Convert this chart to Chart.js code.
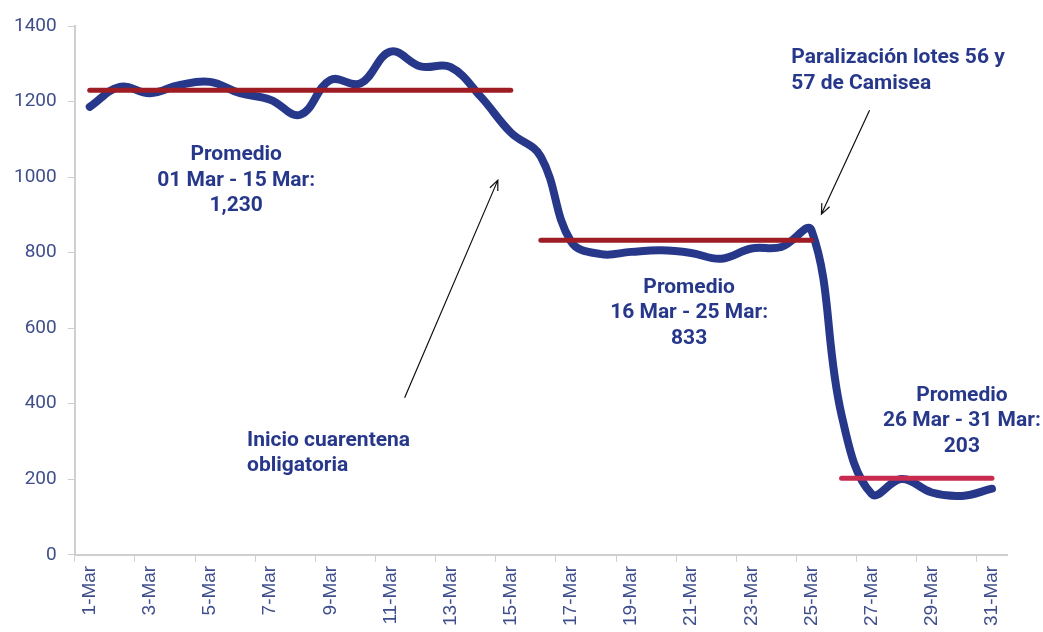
<!DOCTYPE html>
<html lang="es">
<head>
    <meta charset="UTF-8">
    <title>Producción diaria - Marzo</title>
    <script src="https://cdn.jsdelivr.net/npm/chart.js"></script>
    <style>
        html, body { margin: 0; padding: 0; background: #fff; }
        #wrap { width: 1043px; height: 632px; }
    </style>
</head>
<body>
<div id="wrap"><canvas id="chart"></canvas></div>
<script>
    // Categories and values
    const days = [];
    for (let d = 1; d <= 31; d++) days.push(d + '-Mar');

    const dailyValues = [
        1186, 1239, 1222, 1244, 1252, 1222, 1205, 1165, 1257, 1248,
        1332, 1293, 1291, 1213, 1118, 1054, 830, 796, 802, 806,
        799, 784, 811, 815, 859, 370, 161, 201, 165, 156, 175
    ];

    // Averages per period: [first day index, last day index, value]
    const avgValues = [1230, 833, 203];
    const avgStart = [0, 15, 25];
    const avgEnd = [14, 24, 30];
    const avgColors = ['#9e1c23', '#9e1c23', '#c92a50'];

    const yTicks = [0, 200, 400, 600, 800, 1000, 1200, 1400];

    const blue = '#27388a';
    const tickColor = '#404f8c';
    const axisColor = '#cfcfcf';

    const avgDatasets = avgValues.map((v, k) => ({
        data: days.map((_, i) => (i >= avgStart[k] && i <= avgEnd[k]) ? v : null),
        borderColor: avgColors[k],
        borderWidth: 5,
        borderCapStyle: 'round',
        pointRadius: 0,
        tension: 0,
        spanGaps: false,
        order: 0
    }));

    // Annotation texts placed on the value axes: [category index, value]
    const notes = [
        { lines: ['Promedio', '01 Mar - 15 Mar:', '1,230'], at: [4.87, 1058], align: 'center' },
        { lines: ['Promedio', '16 Mar - 25 Mar:', '833'], at: [19.93, 708], align: 'center' },
        { lines: ['Promedio', '26 Mar - 31 Mar:', '203'], at: [29.0, 422], align: 'center' },
        { lines: ['Paralización lotes 56 y', '57 de Camisea'], at: [23.33, 1315], align: 'left' },
        { lines: ['Inicio cuarentena', 'obligatoria'], at: [5.23, 302], align: 'left' }
    ];
    const arrows = [
        { from: [10.47, 416], to: [13.57, 992] },
        { from: [25.93, 1177], to: [24.33, 902] }
    ];

    const notesPlugin = {
        id: 'notes',
        afterDatasetsDraw(chart) {
            const ctx = chart.ctx;
            const x = chart.scales.x, y = chart.scales.y;
            ctx.save();
            ctx.fillStyle = blue;
            ctx.font = 'bold 21px Roboto, "Noto Sans", sans-serif';
            ctx.textBaseline = 'middle';
            notes.forEach(n => {
                ctx.textAlign = n.align;
                const px = x.getPixelForValue(n.at[0]);
                const py = y.getPixelForValue(n.at[1]);
                n.lines.forEach((t, i) => ctx.fillText(t, px, py + i * 25.5));
            });
            ctx.strokeStyle = '#111';
            ctx.lineWidth = 1.2;
            arrows.forEach(a => {
                const x1 = x.getPixelForValue(a.from[0]), y1 = y.getPixelForValue(a.from[1]);
                const x2 = x.getPixelForValue(a.to[0]), y2 = y.getPixelForValue(a.to[1]);
                const ang = Math.atan2(y2 - y1, x2 - x1);
                ctx.beginPath();
                ctx.moveTo(x1, y1);
                ctx.lineTo(x2, y2);
                ctx.moveTo(x2 - 11 * Math.cos(ang - 0.4), y2 - 11 * Math.sin(ang - 0.4));
                ctx.lineTo(x2, y2);
                ctx.lineTo(x2 - 11 * Math.cos(ang + 0.4), y2 - 11 * Math.sin(ang + 0.4));
                ctx.stroke();
            });
            ctx.restore();
        }
    };

    new Chart(document.getElementById('chart'), {
        type: 'line',
        data: {
            labels: days,
            datasets: [
                ...avgDatasets,
                {
                    data: dailyValues,
                    borderColor: blue,
                    borderWidth: 8,
                    borderCapStyle: 'round',
                    borderJoinStyle: 'round',
                    pointRadius: 0,
                    tension: 0.4,
                    order: 1
                }
            ]
        },
        options: {
            responsive: true,
            maintainAspectRatio: false,
            animation: false,
            layout: { padding: { top: 26, right: 36, left: 3, bottom: 2 } },
            plugins: { legend: { display: false }, tooltip: { enabled: false } },
            scales: {
                x: {
                    offset: true,
                    grid: {
                        offset: true,
                        drawOnChartArea: false,
                        tickLength: 7,
                        color: c => (c.index % 2 === 0 ? axisColor : 'transparent')
                    },
                    border: { color: axisColor, width: 2 },
                    ticks: {
                        autoSkip: false,
                        maxRotation: 90,
                        minRotation: 90,
                        padding: 4,
                        color: tickColor,
                        font: { family: '"Liberation Sans", Arial, sans-serif', size: 19 },
                        callback: (v, i) => (i % 2 === 0 ? days[i] : '')
                    }
                },
                y: {
                    min: 0,
                    max: 1400,
                    afterBuildTicks: s => { s.ticks = yTicks.map(v => ({ value: v })); },
                    grid: { drawOnChartArea: false, tickLength: 7, color: axisColor },
                    border: { color: axisColor, width: 2 },
                    ticks: {
                        color: tickColor,
                        padding: 11,
                        font: { family: 'Roboto, sans-serif', size: 19 },
                        callback: v => String(v)
                    }
                }
            }
        },
        plugins: [notesPlugin]
    });
</script>
</body>
</html>
